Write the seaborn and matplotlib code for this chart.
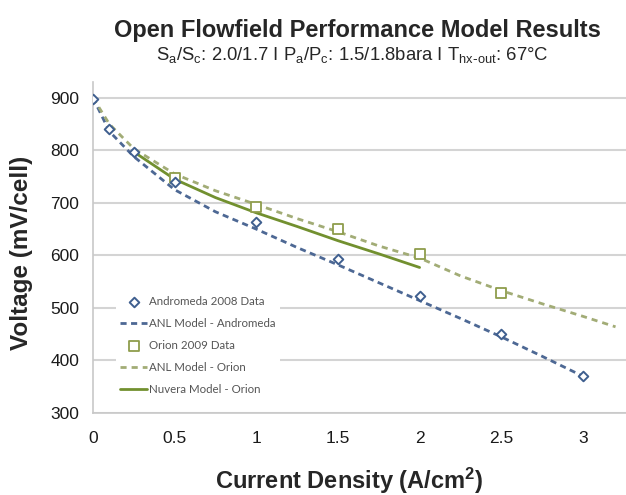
import matplotlib
matplotlib.use("Agg")
import matplotlib.pyplot as plt
from matplotlib import font_manager
import seaborn as sns

# measured data points
andromeda_x = [0.0, 0.1, 0.25, 0.5, 1.0, 1.5, 2.0, 2.5, 3.0]
andromeda_v = [898, 841, 796, 740, 663, 593, 522, 450, 370]

orion_x = [0.5, 1.0, 1.5, 2.0, 2.5]
orion_v = [748, 693, 651, 602, 528]

# model curves
anl_andromeda_x = [0.0, 0.1, 0.25, 0.5, 0.75, 1.0, 1.25, 1.5, 1.75, 2.0, 2.25, 2.5, 2.75, 3.0]
anl_andromeda_v = [900, 836, 788, 725, 683, 650, 615, 582, 548, 514, 480, 445, 408, 370]

anl_orion_x = [0.0, 0.1, 0.25, 0.5, 0.75, 1.0, 1.25, 1.5, 1.75, 2.0, 2.25, 2.5, 2.75, 3.0, 3.2]
anl_orion_v = [900, 850, 803, 755, 723, 697, 670, 645, 618, 595, 561, 533, 508, 484, 464]

nuvera_x = [0.25, 0.5, 0.75, 1.0, 1.25, 1.5, 1.75, 2.0]
nuvera_v = [797, 745, 710, 681, 655, 628, 603, 577]

blue_pt = "#3f5f8f"
blue_ln = "#4d6894"
green_pt = "#8f9d4c"
green_dash = "#a2ac76"
green_ln = "#72902f"
grid_c = "#d4d4d4"

sns.set_style("white")
plt.rcParams['font.family'] = ['Liberation Sans', 'DejaVu Sans']
plt.rcParams['mathtext.default'] = 'regular'

# narrow face for tick labels if it is installed
names = {f.name for f in font_manager.fontManager.ttflist}
tick_font = 'Liberation Sans Narrow' if 'Liberation Sans Narrow' in names else 'Liberation Sans'
tick_size = 13.5 if tick_font == 'Liberation Sans Narrow' else 12.5

fig = plt.figure(figsize=(6.26, 4.95), dpi=100)
ax = fig.add_axes([93/626, 1-413/495, (626-93)/626, (413-82)/495])

sns.lineplot(x=anl_andromeda_x, y=anl_andromeda_v, ax=ax, color=blue_ln,
             linewidth=2, linestyle=(0, (2.2, 1.6)), label='ANL Model - Andromeda')
sns.lineplot(x=anl_orion_x, y=anl_orion_v, ax=ax, color=green_dash,
             linewidth=2, linestyle=(0, (2.2, 1.8)), label='ANL Model - Orion')
sns.lineplot(x=nuvera_x, y=nuvera_v, ax=ax, color=green_ln,
             linewidth=2, label='Nuvera Model - Orion')
sns.scatterplot(x=andromeda_x, y=andromeda_v, ax=ax, marker='D', s=24,
                facecolor='white', edgecolor=blue_pt, linewidth=1.4,
                label='Andromeda 2008 Data', zorder=5)
sns.scatterplot(x=orion_x, y=orion_v, ax=ax, marker='s', s=52,
                facecolor='white', edgecolor=green_pt, linewidth=1.3,
                label='Orion 2009 Data', zorder=4)

ax.set_xlim(0, 3.264)
ax.set_ylim(300, 930)
ax.set_xticks([0, 0.5, 1, 1.5, 2, 2.5, 3])
ax.set_xticklabels(['0', '0.5', '1', '1.5', '2', '2.5', '3'])
ax.set_yticks([300, 400, 500, 600, 700, 800, 900])
ax.yaxis.grid(True, color=grid_c, linewidth=1.5)
ax.set_axisbelow(True)
for s in ['top', 'right']:
    ax.spines[s].set_visible(False)
for s in ['left', 'bottom']:
    ax.spines[s].set_color('#c8c8c8')
    ax.spines[s].set_linewidth(1.2)
ax.tick_params(axis='both', length=4, width=1, color='#c8c8c8',
               labelsize=tick_size, labelcolor='#1a1a1a')
ax.tick_params(axis='x', pad=9)
ax.tick_params(axis='y', pad=6)
for t in ax.get_xticklabels() + ax.get_yticklabels():
    t.set_family(tick_font)
ax.set_xlabel('')
ax.set_ylabel('')

handles, labels = ax.get_legend_handles_labels()
hmap = dict(zip(labels, handles))
order = ['Andromeda 2008 Data', 'ANL Model - Andromeda', 'Orion 2009 Data',
         'ANL Model - Orion', 'Nuvera Model - Orion']
leg = ax.legend([hmap[k] for k in order], order, loc='upper left',
                bbox_to_anchor=(110/626, 1-286/495), bbox_transform=fig.transFigure,
                frameon=True, facecolor='white', edgecolor='none', framealpha=1,
                fancybox=False, handlelength=2.3, handletextpad=0.2,
                labelspacing=0.95, borderpad=0.4,
                prop={'family': ['Lato', 'DejaVu Sans'], 'size': 8.3})
for t in leg.get_texts():
    t.set_color('#555555')

fig.text(357/626, 1-37/495, 'Open Flowfield Performance Model Results',
         ha='center', va='baseline', fontsize=17, fontweight='bold')
fig.text(352/626, 1-60/495,
         r'S$_a$/S$_c$: 2.0/1.7 I P$_a$/P$_c$: 1.5/1.8bara I T$_{hx\text{-}out}$: 67°C',
         ha='center', va='baseline', fontsize=13.3)
fig.text(22/626, 1-253/495, 'Voltage (mV/cell)', rotation=90,
         ha='center', va='center', fontsize=17.5, fontweight='bold')
fig.text(349/626, 1-489/495, 'Current Density (A/cm$^2$)',
         ha='center', va='baseline', fontsize=17, fontweight='bold')

fig.savefig('out.png', dpi=100)
